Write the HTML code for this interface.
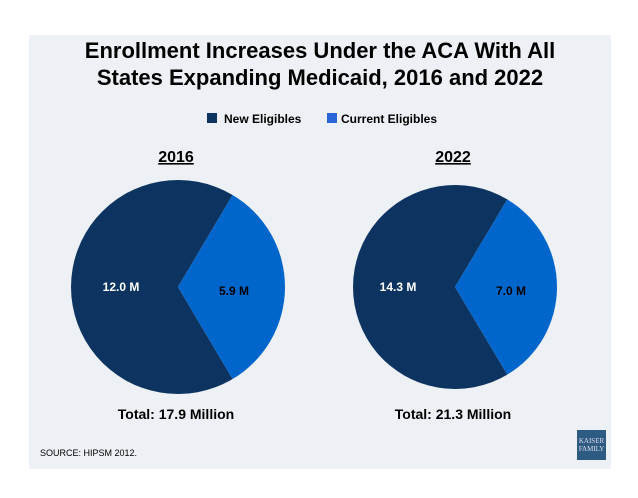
<!DOCTYPE html>
<html><head><meta charset="utf-8"><style>
body{margin:0;background:#fff;width:638px;height:493px;overflow:hidden;font-family:"Liberation Sans",sans-serif}
</style></head><body>
<svg width="638" height="493" xmlns="http://www.w3.org/2000/svg">
<rect x="29" y="35" width="582" height="434" fill="#edf0f4"/>
<text x="320" y="58" text-anchor="middle" font-size="22" font-weight="bold" fill="#000">Enrollment Increases Under the ACA With All</text>
<text x="320" y="85" text-anchor="middle" font-size="22" font-weight="bold" fill="#000">States Expanding Medicaid, 2016 and 2022</text>
<g>
<rect x="207" y="113" width="10" height="10" fill="#0d3461"/>
<text x="224" y="123" font-size="12" font-weight="bold">New Eligibles</text>
<rect x="327" y="113" width="10" height="10" fill="#2a66d8"/>
<text x="341" y="123" font-size="12" font-weight="bold">Current Eligibles</text>
</g>
<g id="pies"></g>
</svg>
<script>
const years=["2016","2022"];
const newElig=[12.0,14.3];
const currentElig=[5.9,7.0];
const totals=["Total: 17.9 Million","Total: 21.3 Million"];
const NS="http://www.w3.org/2000/svg";
const g=document.getElementById('pies');
const cx=[178,455],cy=287,rad=[107,102];
function pt(x,y,r,a){return [x+r*Math.sin(a),y-r*Math.cos(a)];}
function arc(x,y,r,a0,a1){const p0=pt(x,y,r,a0),p1=pt(x,y,r,a1);const l=(a1-a0)>Math.PI?1:0;return `M${x},${y}L${p0[0]},${p0[1]}A${r},${r} 0 ${l} 1 ${p1[0]},${p1[1]}Z`;}
function mk(tag,attrs,txt){const e=document.createElementNS(NS,tag);for(const k in attrs)e.setAttribute(k,attrs[k]);if(txt)e.textContent=txt;g.appendChild(e);return e;}
years.forEach((yr,i)=>{
  const tot=newElig[i]+currentElig[i];
  const fc=currentElig[i]/tot*2*Math.PI;
  const a0=Math.PI/2-fc/2,a1=Math.PI/2+fc/2;
  const x=cx[i],r=rad[i];
  const n=mk('path',{d:arc(x,cy,r,a1,a0+2*Math.PI),fill:'#0d3461'});
  
  
  const c=mk('path',{d:arc(x,cy,r,a0,a1),fill:'#0066cc'});
  
  
  const l1=mk('text',{x:x-57,y:cy+4,'text-anchor':'middle','font-size':12,'font-weight':'bold',fill:'#fff'},newElig[i].toFixed(1)+' M');
  
  
  const l2=mk('text',{x:x+56,y:cy+8,'text-anchor':'middle','font-size':12,'font-weight':'bold',fill:'#000'},currentElig[i].toFixed(1)+' M');
  
  
  const t=mk('text',{x:x-2,y:162,'text-anchor':'middle','font-size':16,'font-weight':'bold','text-decoration':'underline'},yr);
  
  
  const tt=mk('text',{x:x-2,y:419,'text-anchor':'middle','font-size':14,'font-weight':'bold'},totals[i]);
  
  
});
</script>
<svg style="position:absolute;left:0;top:0" width="638" height="493" xmlns="http://www.w3.org/2000/svg">
<text x="40" y="456" font-size="9" fill="#000">SOURCE: HIPSM 2012.</text>
<g>
<rect x="577" y="430" width="29" height="30" fill="#2e5b82"/>
<text x="591.5" y="443" text-anchor="middle" font-size="7" fill="#dde" font-family="Liberation Serif,serif">KAISER</text>
<text x="591.5" y="451" text-anchor="middle" font-size="7" fill="#dde" font-family="Liberation Serif,serif">FAMILY</text>
</g>
</svg>
</body></html>
